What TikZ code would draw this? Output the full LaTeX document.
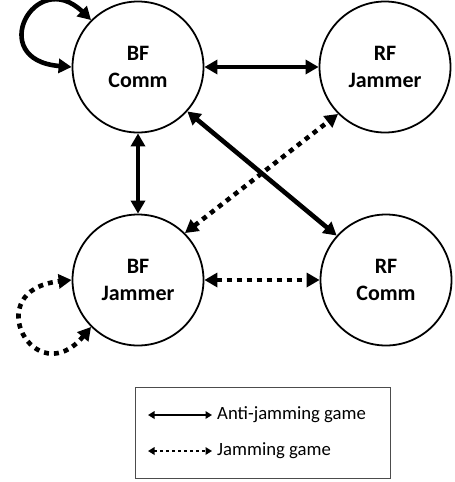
\documentclass[tikz,border=0pt]{standalone}
\usepackage{fontspec}
\setmainfont{Carlito}
\usetikzlibrary{arrows.meta}
\begin{document}
\begin{tikzpicture}[x=1pt, y=-1pt,
    state/.style={circle, draw, line width=1.8pt, minimum size=131pt, inner sep=0pt, align=center, font=\fontsize{22}{27}\selectfont\bfseries},
    anti/.style={line width=4.6pt, >={Triangle[length=13pt,width=14pt]}, <->},
    jam/.style={anti, dash pattern=on 5pt off 5pt},
    key/.style={line width=2.2pt, >={Triangle[length=6.5pt,width=7.5pt]}, <->},
    keytext/.style={anchor=west, inner sep=5pt, font=\fontsize{18.7}{22}\selectfont}]
                    \useasboundingbox (0,0) rectangle (455,482);
                    \node [state] (bfc) at (138,67) {BF\\Comm};
                    \node [state] (rfj) at (385,67) {RF\\Jammer};
                    \node [state] (bfj) at (138,280) {BF\\Jammer};
                    \node [state] (rfc) at (386,280) {RF\\Comm};
                    % anti-jamming game
                    \draw [anti] (bfc) -- (rfj);
                    \draw [anti] (bfc) -- (bfj);
                    \draw [anti] (bfc.-42) -- (rfc.138);
                    \draw [anti] (bfc.135) .. controls (35,-34) and (-15,60) .. (bfc.180);
                    % jamming game
                    \draw [jam] (bfj.45) -- (rfj.225);
                    \draw [jam] (bfj) -- (rfc);
                    \draw [jam] (bfj.225) .. controls (35,394) and (-22,290) .. (bfj.180);
                    % legend
                    \draw [black!70, line width=0.8pt] (135,387.5) rectangle (390.5,478);
                    \node [keytext] (antitxt) at (212,415) {Anti-jamming game};
                    \node [keytext] (jamtxt) at (212,451) {Jamming game};
                    \coordinate (antikey) at (148,415);
                    \coordinate (jamkey) at (148,451);
                    \draw [key] (antikey) -- (antitxt.west);
                    \draw [key, dash pattern=on 3pt off 3pt] (jamkey) -- (jamtxt.west);
                \end{tikzpicture}
\end{document}
